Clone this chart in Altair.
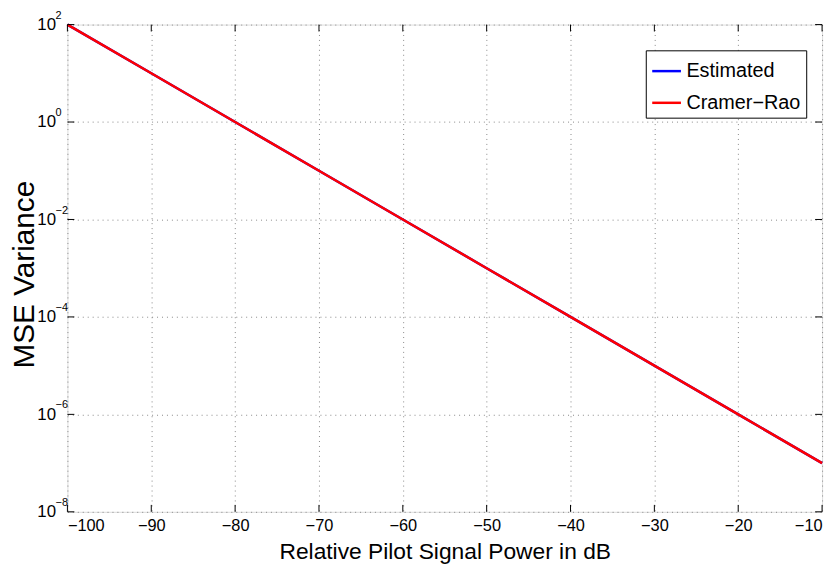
import altair as alt
import pandas as pd

# data
power_db = [-100, -90, -80, -70, -60, -50, -40, -30, -20, -10]
estimated = [1e2, 1e1, 1e0, 1e-1, 1e-2, 1e-3, 1e-4, 1e-5, 1e-6, 1e-7]
cramer_rao = [1e2, 1e1, 1e0, 1e-1, 1e-2, 1e-3, 1e-4, 1e-5, 1e-6, 1e-7]
series_names = ["Estimated", "Cramer\u2212Rao"]
series_colors = ["#0000ff", "#ff0000"]
x_ticks = [-100, -90, -80, -70, -60, -50, -40, -30, -20, -10]
y_ticks = [1e2, 1e0, 1e-2, 1e-4, 1e-6, 1e-8]
y_exponents = ["2", "0", "\u22122", "\u22124", "\u22126", "\u22128"]

W, H = 762, 492
FONT = "Liberation Sans"

df_est = pd.DataFrame({"x": power_db, "y": estimated, "series": series_names[0]})
df_cr = pd.DataFrame({"x": power_db, "y": cramer_rao, "series": series_names[1]})
df_xt = pd.DataFrame({"x": x_ticks})
df_yt = pd.DataFrame({"y": y_ticks, "exp": y_exponents})

xscale = alt.Scale(domain=[-100, -10], nice=False, zero=False)
yscale = alt.Scale(type="log", domain=[1e-8, 1e2], nice=False)
cscale = alt.Scale(domain=series_names, range=series_colors)

xaxis = alt.Axis(
    values=x_ticks, grid=True, gridDash=[1, 4], gridColor="#888888", gridWidth=1,
    ticks=False, domain=False, labelFont=FONT, labelFontSize=16.5, labelColor="black",
    labelPadding=6, title="Relative Pilot Signal Power in dB", titleFont=FONT,
    titleFontSize=23, titleFontWeight="normal", titleColor="black",
    titleY=47, titleBaseline="alphabetic",
)
yaxis = alt.Axis(
    values=y_ticks, grid=True, gridDash=[1, 4], gridColor="#888888", gridWidth=1,
    ticks=False, domain=False, labelExpr="'10'", labelFont=FONT, labelFontSize=17,
    labelColor="black", labelPadding=12, labelBaseline="middle",
    title="MSE Variance", titleFont=FONT, titleFontSize=30, titleFontWeight="normal",
    titleColor="black", titleX=-34, titleY=252, titleBaseline="alphabetic",
    titleAlign="center", titleAngle=270,
)

color = alt.Color("series:N", scale=cscale, sort=series_names,
                  legend=alt.Legend(title=None, orient="none", legendX=584, legendY=26,
                                    strokeColor="black", fillColor="white", padding=5,
                                    symbolType="stroke", symbolSize=841,
                                    symbolStrokeWidth=2.5, labelFont=FONT,
                                    labelFontSize=20, labelColor="black",
                                    labelOffset=4, rowPadding=6, cornerRadius=0))

line_est = alt.Chart(df_est).mark_line(strokeWidth=2.5).encode(
    x=alt.X("x:Q", scale=xscale, axis=xaxis),
    y=alt.Y("y:Q", scale=yscale, axis=yaxis),
    color=color,
)
line_cr = alt.Chart(df_cr).mark_line(strokeWidth=2.5).encode(
    x=alt.X("x:Q", scale=xscale),
    y=alt.Y("y:Q", scale=yscale),
    color=color,
)

tick_b = alt.Chart(df_xt).mark_rule(color="black", strokeWidth=1).encode(
    x=alt.X("x:Q", scale=xscale), y=alt.value(H), y2=alt.value(H - 7))
tick_t = alt.Chart(df_xt).mark_rule(color="black", strokeWidth=1).encode(
    x=alt.X("x:Q", scale=xscale), y=alt.value(0), y2=alt.value(7))
tick_l = alt.Chart(df_yt).mark_rule(color="black", strokeWidth=1).encode(
    y=alt.Y("y:Q", scale=yscale), x=alt.value(0), x2=alt.value(7))
tick_r = alt.Chart(df_yt).mark_rule(color="black", strokeWidth=1).encode(
    y=alt.Y("y:Q", scale=yscale), x=alt.value(W), x2=alt.value(W - 7))

exps = alt.Chart(df_yt).mark_text(font=FONT, fontSize=11, align="left",
                                  baseline="middle", dy=-9, color="black").encode(
    y=alt.Y("y:Q", scale=yscale), x=alt.value(-12), text="exp:N")

chart = alt.layer(line_est, line_cr, tick_b, tick_t, tick_l, tick_r, exps).properties(
    width=W, height=H,
    autosize=alt.AutoSizeParams(type="none"),
    padding={"left": 60, "top": 14, "right": 7, "bottom": 55},
).configure_view(stroke="black", strokeWidth=1.2).configure(background="white")

chart.save("out.html", embed_options={"renderer": "svg", "actions": False})
